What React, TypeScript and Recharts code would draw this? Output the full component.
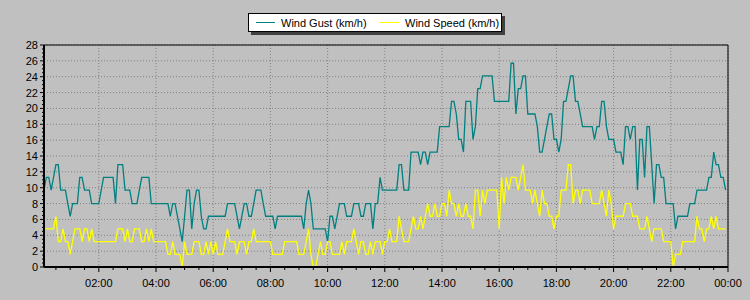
import { LineChart, Line, XAxis, YAxis, CartesianGrid, ReferenceArea, Legend } from 'recharts';

// 5-minute samples, 00:05 .. 23:55 (km/h)
const startMinute = 5;
const stepMinutes = 5;

const gustKmh = [
  9.7, 11.3, 11.3, 9.7, 11.3, 12.9, 12.9, 9.7, 9.7, 9.7, 8, 6.4,
  8, 8, 8, 11.3, 11.3, 9.7, 9.7, 9.7, 8, 8, 8, 8,
  9.7, 11.3, 11.3, 11.3, 11.3, 11.3, 8, 12.9, 12.9, 12.9, 9.7, 9.7,
  9.7, 8, 8, 8, 9.7, 11.3, 11.3, 11.3, 11.3, 8, 8, 8,
  8, 8, 8, 8, 8, 6.4, 8, 8, 6.4, 4.8, 3.2, 6.4,
  9.7, 9.7, 4.8, 8, 9.7, 9.7, 6.4, 4.8, 4.8, 6.4, 6.4, 6.4,
  6.4, 6.4, 6.4, 6.4, 6.4, 8, 8, 8, 8, 6.4, 4.8, 6.4,
  8, 8, 6.4, 6.4, 8, 9.7, 9.7, 9.7, 8, 6.4, 6.4, 6.4,
  6.4, 4.8, 6.4, 6.4, 6.4, 6.4, 6.4, 6.4, 6.4, 6.4, 6.4, 6.4,
  6.4, 4.8, 8, 9.7, 8, 4.8, 4.8, 4.8, 4.8, 4.8, 4.8, 3.2,
  6.4, 6.4, 4.8, 6.4, 8, 8, 8, 6.4, 6.4, 6.4, 8, 8,
  8, 6.4, 6.4, 8, 8, 8, 4.8, 8, 8, 11.3, 9.7, 9.7,
  9.7, 9.7, 9.7, 9.7, 9.7, 12.9, 12.9, 9.7, 9.7, 9.7, 14.5, 14.5,
  14.5, 14.5, 12.9, 14.5, 14.5, 12.9, 14.5, 14.5, 14.5, 14.5, 17.7, 17.7,
  17.7, 17.7, 17.7, 20.9, 20.9, 19.3, 16.1, 16.1, 14.5, 20.9, 20.9, 20.9,
  16.1, 17.7, 22.5, 22.5, 24.1, 24.1, 24.1, 24.1, 24.1, 20.9, 20.9, 20.9,
  20.9, 20.9, 20.9, 20.9, 25.7, 25.7, 19.3, 22.5, 22.5, 24.1, 24.1, 19.3,
  19.3, 19.3, 19.3, 17.7, 14.5, 14.5, 16.1, 17.7, 19.3, 19.3, 16.1, 16.1,
  14.5, 16.1, 20.9, 20.9, 22.5, 24.1, 24.1, 20.9, 20.9, 19.3, 17.7, 17.7,
  17.7, 17.7, 17.7, 16.1, 17.7, 17.7, 20.9, 20.9, 17.7, 16.1, 16.1, 16.1,
  14.5, 14.5, 14.5, 12.9, 17.7, 17.7, 16.1, 17.7, 17.7, 9.7, 16.1, 16.1,
  11.3, 17.7, 17.7, 12.9, 8, 12.9, 12.9, 11.3, 11.3, 8, 8, 8,
  8, 4.8, 6.4, 6.4, 6.4, 6.4, 6.4, 8, 8, 8, 9.7, 9.7,
  9.7, 9.7, 9.7, 11.3, 11.3, 14.5, 12.9, 12.9, 11.3, 11.3, 9.7,
];

const speedKmh = [
  4.8, 4.8, 4.8, 4.8, 4.8, 6.4, 3.2, 3.2, 4.8, 3.2, 3.2, 1.6,
  3.2, 4.8, 4.8, 4.8, 3.2, 4.8, 4.8, 3.2, 4.8, 3.2, 3.2, 3.2,
  3.2, 3.2, 3.2, 3.2, 3.2, 3.2, 3.2, 4.8, 4.8, 4.8, 3.2, 4.8,
  3.2, 3.2, 4.8, 4.8, 4.8, 3.2, 3.2, 4.8, 3.2, 4.8, 3.2, 3.2,
  3.2, 3.2, 3.2, 3.2, 1.6, 1.6, 3.2, 1.6, 1.6, 1.6, 0, 3.2,
  1.6, 1.6, 1.6, 3.2, 3.2, 3.2, 1.6, 1.6, 3.2, 1.6, 3.2, 1.6,
  3.2, 1.6, 1.6, 1.6, 3.2, 4.8, 3.2, 3.2, 3.2, 1.6, 3.2, 3.2,
  3.2, 1.6, 3.2, 3.2, 4.8, 3.2, 3.2, 3.2, 3.2, 3.2, 3.2, 3.2,
  1.6, 1.6, 1.6, 1.6, 1.6, 3.2, 3.2, 3.2, 3.2, 3.2, 3.2, 1.6,
  1.6, 1.6, 3.2, 4.8, 1.6, 0, 0, 1.6, 3.2, 1.6, 1.6, 3.2,
  3.2, 1.6, 1.6, 1.6, 1.6, 3.2, 1.6, 3.2, 3.2, 3.2, 4.8, 3.2,
  1.6, 3.2, 3.2, 1.6, 1.6, 3.2, 1.6, 3.2, 3.2, 3.2, 1.6, 3.2,
  3.2, 4.8, 3.2, 3.2, 3.2, 6.4, 4.8, 3.2, 3.2, 3.2, 4.8, 6.4,
  4.8, 4.8, 6.4, 4.8, 6.4, 8, 6.4, 6.4, 8, 6.4, 6.4, 8,
  8, 6.4, 9.7, 8, 8, 6.4, 8, 6.4, 6.4, 8, 6.4, 6.4,
  4.8, 9.7, 9.7, 6.4, 9.7, 8, 9.7, 9.7, 9.7, 9.7, 9.7, 4.8,
  11.3, 8, 11.3, 9.7, 11.3, 11.3, 11.3, 9.7, 11.3, 12.9, 9.7, 9.7,
  9.7, 8, 9.7, 8, 6.4, 9.7, 8, 8, 6.4, 6.4, 4.8, 6.4,
  6.4, 9.7, 9.7, 9.7, 12.9, 12.9, 8, 9.7, 9.7, 8, 9.7, 9.7,
  9.7, 9.7, 8, 8, 8, 8, 9.7, 8, 6.4, 9.7, 8, 4.8,
  6.4, 6.4, 6.4, 6.4, 8, 8, 8, 6.4, 6.4, 6.4, 4.8, 4.8,
  4.8, 6.4, 4.8, 3.2, 4.8, 4.8, 4.8, 4.8, 3.2, 3.2, 3.2, 3.2,
  0, 1.6, 1.6, 1.6, 3.2, 3.2, 3.2, 3.2, 3.2, 3.2, 6.4, 4.8,
  4.8, 3.2, 4.8, 4.8, 6.4, 4.8, 6.4, 4.8, 4.8, 4.8, 4.8,
];

const hourTicks = [120, 240, 360, 480, 600, 720, 840, 960, 1080, 1200, 1320, 1440];
const hourLabels = ['02:00', '04:00', '06:00', '08:00', '10:00', '12:00', '14:00', '16:00', '18:00', '20:00', '22:00', '00:00'];
const yMajor = [0, 2, 4, 6, 8, 10, 12, 14, 16, 18, 20, 22, 24, 26, 28];

const data = gustKmh.map((g, i) => ({
  t: startMinute + i * stepMinutes,
  gust: g,
  speed: speedKmh[i],
}));

// minor tick positions (every 30 min / every 0.5 km/h)
const xTicks: number[] = [];
for (let m = 30; m <= 1440; m += 30) xTicks.push(m);
const yTicks: number[] = [];
for (let v = 0; v <= 28; v += 0.5) yTicks.push(v);

const FONT = '"Liberation Sans", Arial, sans-serif';

const XTick = ({ x, y, payload }: any) => {
  const idx = hourTicks.indexOf(payload.value);
  const major = idx >= 0;
  return (
    <g>
      <line x1={x} x2={x} y1={y} y2={y + (major ? 5 : 3)} stroke="#000" />
      {major && (
        <text x={x} y={y + 20} textAnchor="middle" fontSize={11} fontFamily={FONT} fill="#000">
          {hourLabels[idx]}
        </text>
      )}
    </g>
  );
};

const YTick = ({ x, y, payload }: any) => {
  const v = payload.value;
  const major = v % 2 === 0;
  return (
    <g>
      <line x1={x - (major ? 4 : 2)} x2={x} y1={y} y2={y} stroke="#000" />
      {major && (
        <text x={x - 6} y={y + 4} textAnchor="end" fontSize={11} fontFamily={FONT} fill="#000">
          {v}
        </text>
      )}
    </g>
  );
};

const LegendBox = () => (
  <div
    style={{
      width: 252, height: 17, border: '1px solid #000', background: '#fff',
      boxShadow: '3px 3px 0 #404040', display: 'flex', alignItems: 'center',
      fontFamily: FONT, fontSize: 11, color: '#000', boxSizing: 'content-box',
    }}
  >
    <span style={{ display: 'inline-block', width: 19, height: 1, background: '#008080', marginLeft: 7, marginRight: 6 }} />
    <span style={{ width: 85, whiteSpace: 'nowrap' }}>Wind Gust (km/h)</span>
    <span style={{ display: 'inline-block', width: 19, height: 1, background: '#ffff00', marginLeft: 14, marginRight: 6 }} />
    <span style={{ whiteSpace: 'nowrap' }}>Wind Speed (km/h)</span>
  </div>
);

export default function App() {
  return (
    <div style={{ position: 'absolute', left: 0, top: 0, width: 750, height: 300, background: '#c0c0c0' }}>
      <LineChart width={750} height={300} data={data} margin={{ top: 45, right: 22, bottom: 0, left: 0 }}>
        <CartesianGrid
          stroke="#808080"
          strokeDasharray="1 2"
          horizontalValues={yMajor}
          verticalValues={hourTicks}
        />
        <XAxis
          dataKey="t"
          type="number"
          domain={[startMinute, 1440]}
          ticks={xTicks}
          interval={0}
          tick={<XTick />}
          tickLine={false}
          tickSize={0}
          tickMargin={0}
          height={33}
          axisLine={{ stroke: '#000', strokeWidth: 2 }}
          allowDataOverflow
        />
        <YAxis
          type="number"
          domain={[0, 28]}
          ticks={yTicks}
          interval={0}
          tick={<YTick />}
          tickLine={false}
          tickSize={0}
          tickMargin={0}
          width={44}
          axisLine={{ stroke: '#000', strokeWidth: 2 }}
          allowDataOverflow
        />
        <ReferenceArea x1={startMinute} x2={1440} y1={0} y2={28} fill="none" stroke="#000" strokeWidth={1} />
        <Legend
          layout="horizontal"
          verticalAlign="middle"
          align="center"
          content={<LegendBox />}
          wrapperStyle={{ position: 'absolute', top: 13, left: 248, width: 260, height: 22 }}
        />
        <Line type="linear" dataKey="gust" stroke="#008080" strokeWidth={1.3} dot={false} isAnimationActive={false} />
        <Line type="linear" dataKey="speed" stroke="#ffff00" strokeWidth={1.3} dot={false} isAnimationActive={false} />
      </LineChart>
    </div>
  );
}
